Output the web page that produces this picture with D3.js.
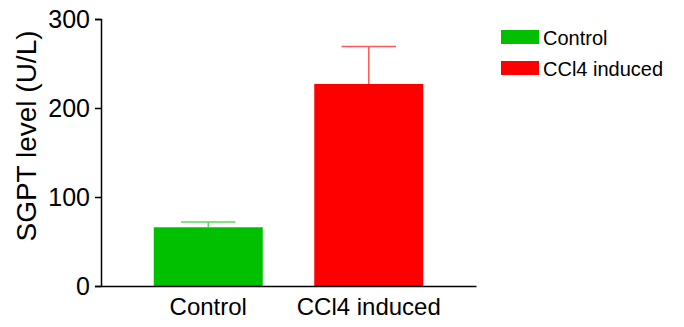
<!DOCTYPE html>
<html>
<head>
<meta charset="utf-8">
<script src="https://cdn.jsdelivr.net/npm/d3@7"></script>
<style>
  body { margin: 0; background: #fff; }
  text { font-family: Arial, "Liberation Sans", Helvetica, sans-serif; }
</style>
</head>
<body>
<svg width="684" height="327"></svg>
<script>
var groups = ["Control", "CCl4 induced"];
var means = [66, 227];
var errors = [6, 42];
var colors = ["#00c000", "#ff0000"];
var errColors = ["#5ad85a", "#ff5a5a"];
var yTicks = [0, 100, 200, 300];

var svg = d3.select("svg");

var x = d3.scaleBand()
  .domain(groups)
  .range([101, 476])
  .paddingInner(0.321)
  .paddingOuter(0.3286);

var y = d3.scaleLinear()
  .domain([0, 300])
  .range([286, 19]);

// bars
svg.selectAll("rect.bar")
  .data(groups)
  .enter()
  .append("rect")
  .attr("class", "bar")
  .attr("x", function (d) { return x(d); })
  .attr("y", function (d, i) { return y(means[i]); })
  .attr("width", x.bandwidth())
  .attr("height", function (d, i) { return y(0) - y(means[i]); })
  .attr("fill", function (d, i) { return colors[i]; });

// error bars (upper only)
var err = svg.selectAll("g.err")
  .data(groups)
  .enter()
  .append("g")
  .attr("class", "err")
  .attr("stroke", function (d, i) { return errColors[i]; })
  .attr("stroke-width", 1.5);

err.append("line")
  .attr("x1", function (d) { return x(d) + x.bandwidth() / 2; })
  .attr("x2", function (d) { return x(d) + x.bandwidth() / 2; })
  .attr("y1", function (d, i) { return y(means[i]); })
  .attr("y2", function (d, i) { return y(means[i] + errors[i]); });

err.append("line")
  .attr("x1", function (d) { return x(d) + x.bandwidth() / 4; })
  .attr("x2", function (d) { return x(d) + x.bandwidth() * 3 / 4; })
  .attr("y1", function (d, i) { return y(means[i] + errors[i]); })
  .attr("y2", function (d, i) { return y(means[i] + errors[i]); });

// y axis
var yAxis = d3.axisLeft(y).tickValues(yTicks).tickSize(6).tickPadding(5);
var gy = svg.append("g")
  .attr("transform", "translate(101,0)")
  .call(yAxis);
gy.select(".domain").attr("stroke", "#000").attr("stroke-width", 1.5);
gy.selectAll(".tick line").attr("stroke", "#000").attr("stroke-width", 1.5);
gy.selectAll(".tick text")
  .attr("font-size", 25)
  .attr("font-family", "Arial, 'Liberation Sans', sans-serif")
  .attr("fill", "#000");

// x axis
var xAxis = d3.axisBottom(x).tickSize(0).tickPadding(12);
var gx = svg.append("g")
  .attr("transform", "translate(0,286)")
  .call(xAxis);
gx.select(".domain").attr("stroke", "#000").attr("stroke-width", 1.5);
gx.selectAll(".tick text")
  .attr("font-size", 24)
  .attr("font-family", "Arial, 'Liberation Sans', sans-serif")
  .attr("fill", "#000");

// y title
svg.append("text")
  .attr("transform", "translate(36,136) rotate(-90)")
  .attr("text-anchor", "middle")
  .attr("font-size", 28)
  .attr("fill", "#000")
  .text("SGPT level (U/L)");

// legend
var legend = svg.selectAll("g.legend")
  .data(groups)
  .enter()
  .append("g")
  .attr("class", "legend")
  .attr("transform", function (d, i) { return "translate(501," + (30 + i * 31) + ")"; });

legend.append("rect")
  .attr("width", 38)
  .attr("height", 14)
  .attr("fill", function (d, i) { return colors[i]; });

legend.append("text")
  .attr("x", 42)
  .attr("y", 15)
  .attr("font-size", 20)
  .attr("fill", "#000")
  .text(function (d) { return d; });
</script>
</body>
</html>
